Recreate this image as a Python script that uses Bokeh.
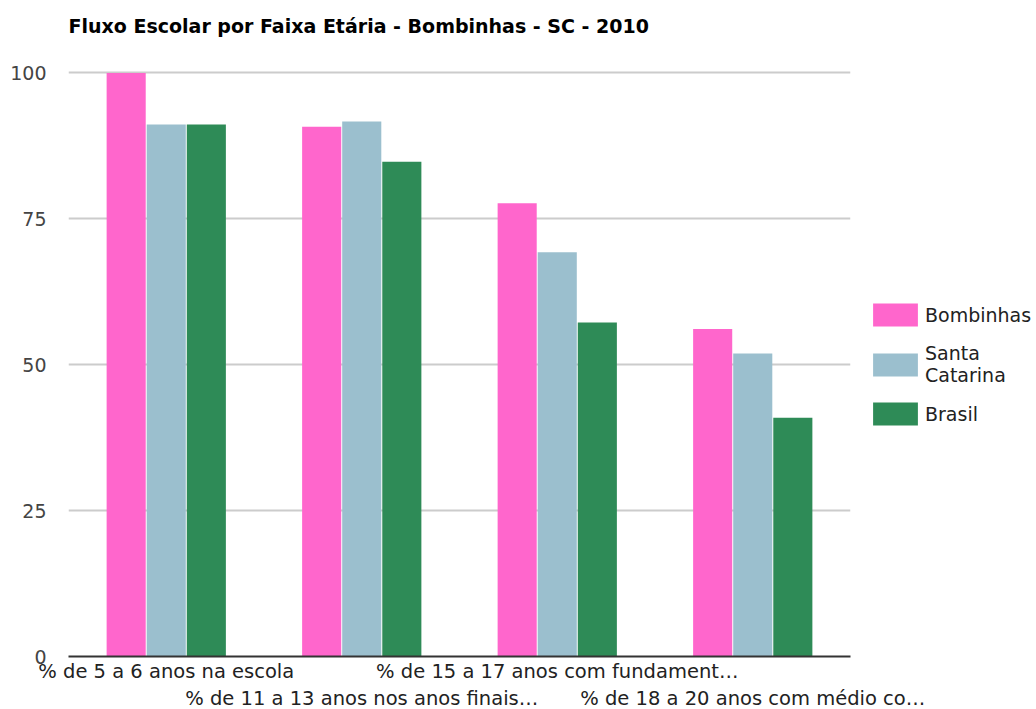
from bokeh.plotting import figure
from bokeh.models import ColumnDataSource, Range1d, FixedTicker, Legend, LegendItem
from bokeh.transform import dodge
from bokeh.embed import file_html
from bokeh.resources import INLINE

categories = [
    "% de 5 a 6 anos na escola",
    "% de 11 a 13 anos nos anos finais…",
    "% de 15 a 17 anos com fundament…",
    "% de 18 a 20 anos com médio co…",
]
bombinhas = [99.9, 90.7, 77.6, 56.1]
santa_catarina = [91.1, 91.6, 69.2, 51.9]
brasil = [91.1, 84.7, 57.2, 40.9]
series_names = ["Bombinhas", "Santa\nCatarina", "Brasil"]
colors = ["#ff66cc", "#9bbfce", "#2e8b57"]
y_ticks = [0, 25, 50, 75, 100]

xpos = [i + 0.5 for i in range(len(categories))]
src = ColumnDataSource(dict(x=xpos, b=bombinhas, s=santa_catarina, r=brasil))

FONT = "DejaVu Sans"
FRAME_H = 608          # frame extends above the 100 line to leave room for the title
Y_TOP = 100 * FRAME_H / 584

p = figure(frame_width=782, frame_height=FRAME_H, output_backend="svg", toolbar_location=None,
           x_range=Range1d(0, len(categories)), y_range=Range1d(0, Y_TOP),
           min_border_left=0, min_border_top=0, min_border_bottom=0, min_border_right=0)
p.outline_line_color = None

renderers = []
for key, off, col in zip(["b", "s", "r"], [-0.205, 0.0, 0.205], colors):
    r = p.vbar(x=dodge("x", off, range=p.x_range), top=key, width=0.2,
               source=src, fill_color=col, line_color=None)
    renderers.append(r)

p.title.text = "Fluxo Escolar por Faixa Etária - Bombinhas - SC - 2010"
p.title.text_font = FONT
p.title.text_font_size = "19px"
p.title.text_font_style = "bold"
p.title.text_color = "#000000"
p.title.align = "left"
p.title.vertical_align = "bottom"
p.title.standoff = 24

# y axis
p.yaxis.ticker = FixedTicker(ticks=y_ticks)
p.yaxis.axis_line_color = None
p.yaxis.major_tick_line_color = None
p.yaxis.minor_tick_line_color = None
p.yaxis.major_label_text_font = FONT
p.yaxis.major_label_text_font_size = "19px"
p.yaxis.major_label_text_color = "#444444"
p.yaxis.major_label_standoff = 16
p.yaxis.axis_label = " "
p.yaxis.axis_label_text_font_size = "3px"
p.yaxis.axis_label_standoff = 0

# x axis with staggered labels
p.xaxis.ticker = FixedTicker(ticks=xpos)
overrides = {}
for i, (xv, c) in enumerate(zip(xpos, categories)):
    overrides[xv] = c if i % 2 == 0 else "\n" + c
p.xaxis.major_label_overrides = overrides
p.xaxis.axis_line_color = "#333333"
p.xaxis.axis_line_width = 2
p.xaxis.major_tick_line_color = None
p.xaxis.minor_tick_line_color = None
p.xaxis.major_label_text_font = FONT
p.xaxis.major_label_text_font_size = "19.5px"
p.xaxis.major_label_text_color = "#222222"
p.xaxis.major_label_standoff = -3

p.xgrid.grid_line_color = None
p.ygrid.ticker = FixedTicker(ticks=y_ticks)
p.ygrid.grid_line_color = "#cccccc"
p.ygrid.grid_line_width = 2

legend = Legend(items=[LegendItem(label=n, renderers=[r]) for n, r in zip(series_names, renderers)],
                location=(17, 228), border_line_color=None,
                label_text_font=FONT, label_text_font_size="19px", label_text_color="#222222",
                glyph_width=56, glyph_height=29, label_height=23, spacing=13, label_standoff=2,
                margin=0, padding=0, background_fill_alpha=0)
p.add_layout(legend, "right")

open("out.html", "w").write(file_html(p, INLINE))
